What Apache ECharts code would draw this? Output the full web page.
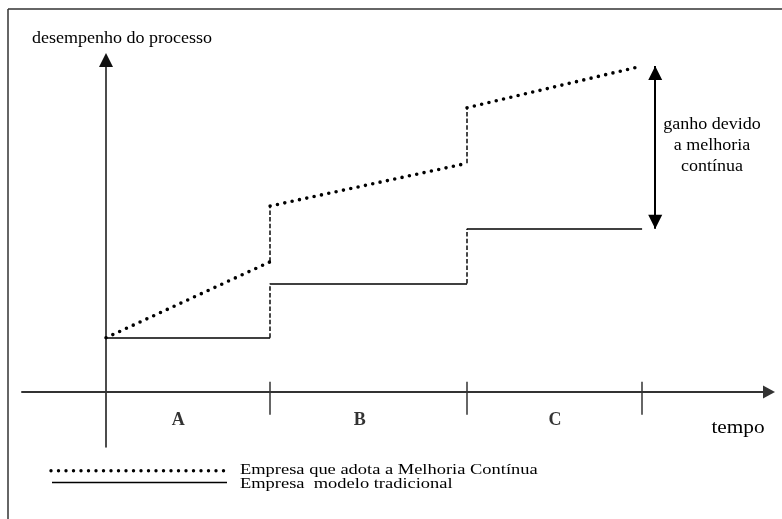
<!DOCTYPE html>
<html><head><meta charset="utf-8">
<script src="https://cdn.jsdelivr.net/npm/echarts@6/dist/echarts.min.js"></script>
<style>html,body{margin:0;padding:0;background:#fff}#c{width:782px;height:519px}</style>
</head><body><div id="c"></div>
<script>
// ---- data (schematic units) ----
const periodBounds = [0, 3, 6.6, 9.8];          // time boundaries of periods A, B, C
const periodNames = ['A', 'B', 'C'];
const periodLabelX = [1.32, 4.64, 8.21];
const periodLabelY = -2.58;
const traditional = [5, 10, 15.04];             // level in each period (tradicional)
const continuousStart = [5, 17.14, 26.2];       // melhoria contínua: start of each period
const continuousEnd = [12, 21.08, 30.05];       // melhoria contínua: end of each period
const tickTop = 0.95, tickBottom = -2.1;
const gainArrowX = 10.04;
const yAxisTitle = 'desempenho do processo';
const xAxisTitle = 'tempo';
const gainText = 'ganho devido\na melhoria\ncontínua';
const legendNames = ['Empresa que adota a Melhoria Contínua', 'Empresa  modelo tradicional'];

const FONT = '"Liberation Serif", "Times New Roman", serif';

const tradSegs = [], contSegs = [], riserSegs = [], tickSegs = [];
for (let i = 0; i < traditional.length; i++) {
  tradSegs.push({coords: [[periodBounds[i], traditional[i]], [periodBounds[i + 1], traditional[i]]]});
  contSegs.push({coords: [[periodBounds[i], continuousStart[i]], [periodBounds[i + 1], continuousEnd[i]]]});
  if (i > 0) {
    riserSegs.push({coords: [[periodBounds[i], traditional[i - 1]], [periodBounds[i], traditional[i]]]});
    riserSegs.push({coords: [[periodBounds[i], continuousEnd[i - 1]], [periodBounds[i], continuousStart[i]]]});
  }
}
for (let i = 1; i < periodBounds.length; i++) {
  tickSegs.push({coords: [[periodBounds[i], tickTop], [periodBounds[i], tickBottom]]});
}
const labelPts = periodNames.map((n, i) => ({value: [periodLabelX[i], periodLabelY], name: n}));

const chart = echarts.init(document.getElementById('c'), null, {renderer: 'canvas'});
chart.setOption({
  animation: false,
  backgroundColor: '#fff',
  grid: {left: 22, right: 13, top: 60, bottom: 72, outerBoundsMode: 'none', containLabel: false},
  xAxis: {
    type: 'value', min: -1.536, max: 12.12,
    splitLine: {show: false}, axisTick: {show: false}, axisLabel: {show: false},
    axisLine: {show: true, onZero: true, symbol: ['none', 'triangle'], symbolSize: [13, 12],
      lineStyle: {color: '#333', width: 2}}
  },
  yAxis: {
    type: 'value', min: -5.07, max: 30.6,
    splitLine: {show: false}, axisTick: {show: false}, axisLabel: {show: false},
    axisLine: {show: true, onZero: true, symbol: ['none', 'triangle'], symbolSize: [14, 14],
      lineStyle: {color: '#111', width: 1.5}}
  },
  series: [
    {type: 'lines', coordinateSystem: 'cartesian2d', silent: true, z: 3,
      lineStyle: {color: '#000', width: 1.5, type: 'solid', opacity: 1}, data: tradSegs},
    {type: 'lines', coordinateSystem: 'cartesian2d', silent: true, z: 4,
      lineStyle: {color: '#000', width: 3.6, type: [0, 7.5], cap: 'round', opacity: 1}, data: contSegs},
    {type: 'lines', coordinateSystem: 'cartesian2d', silent: true, z: 2,
      lineStyle: {color: '#333', width: 1.8, type: [4.5, 2.2], opacity: 1}, data: riserSegs},
    {type: 'lines', coordinateSystem: 'cartesian2d', silent: true, z: 2,
      lineStyle: {color: '#333', width: 1.5, type: 'solid', opacity: 1}, data: tickSegs},
    {type: 'scatter', silent: true, symbolSize: 0, itemStyle: {color: 'transparent'},
      label: {show: true, position: 'inside', formatter: p => p.name,
        fontFamily: FONT, fontWeight: 'bold', fontSize: 18, color: '#000'},
      data: labelPts,
      markLine: {
        silent: true, symbol: ['triangle', 'triangle'], symbolSize: [14, 14], symbolOffset: [[0, 7], [0, 7]],
        label: {show: false}, emphasis: {disabled: true},
        lineStyle: {color: '#000', width: 2, type: 'solid'},
        data: [[{coord: [gainArrowX, traditional[2]]}, {coord: [gainArrowX, continuousEnd[2]]}]]
      }
    }
  ],
  graphic: [
    {type: 'line', shape: {x1: 8, y1: 9, x2: 782, y2: 9}, style: {stroke: '#333', lineWidth: 1.5}},
    {type: 'line', shape: {x1: 8, y1: 9, x2: 8, y2: 519}, style: {stroke: '#333', lineWidth: 1.5}},
    {type: 'text', x: 32, y: 39, scaleX: 1.125, style: {text: yAxisTitle, font: '16px ' + FONT, fill: '#000', verticalAlign: 'middle'}},
    {type: 'text', x: 738, y: 428, scaleX: 1.12, style: {text: xAxisTitle, font: '19px ' + FONT, fill: '#000', align: 'center', verticalAlign: 'middle'}},
    {type: 'text', x: 712, y: 146, scaleX: 1.125, style: {text: gainText, font: '16px ' + FONT, lineHeight: 21, fill: '#000', align: 'center', verticalAlign: 'middle'}},
    {type: 'line', shape: {x1: 51, y1: 470.7, x2: 227, y2: 470.7}, style: {stroke: '#000', lineWidth: 3.4, lineDash: [0, 7.5], lineCap: 'round'}},
    {type: 'line', shape: {x1: 52, y1: 482.5, x2: 227, y2: 482.5}, style: {stroke: '#000', lineWidth: 1.5}},
    {type: 'text', x: 240, y: 470, scaleX: 1.23, style: {text: legendNames[0], font: '15px ' + FONT, fill: '#000', verticalAlign: 'middle'}},
    {type: 'text', x: 240, y: 484, scaleX: 1.23, style: {text: legendNames[1], font: '15px ' + FONT, fill: '#000', verticalAlign: 'middle'}}
  ]
});
</script></body></html>
